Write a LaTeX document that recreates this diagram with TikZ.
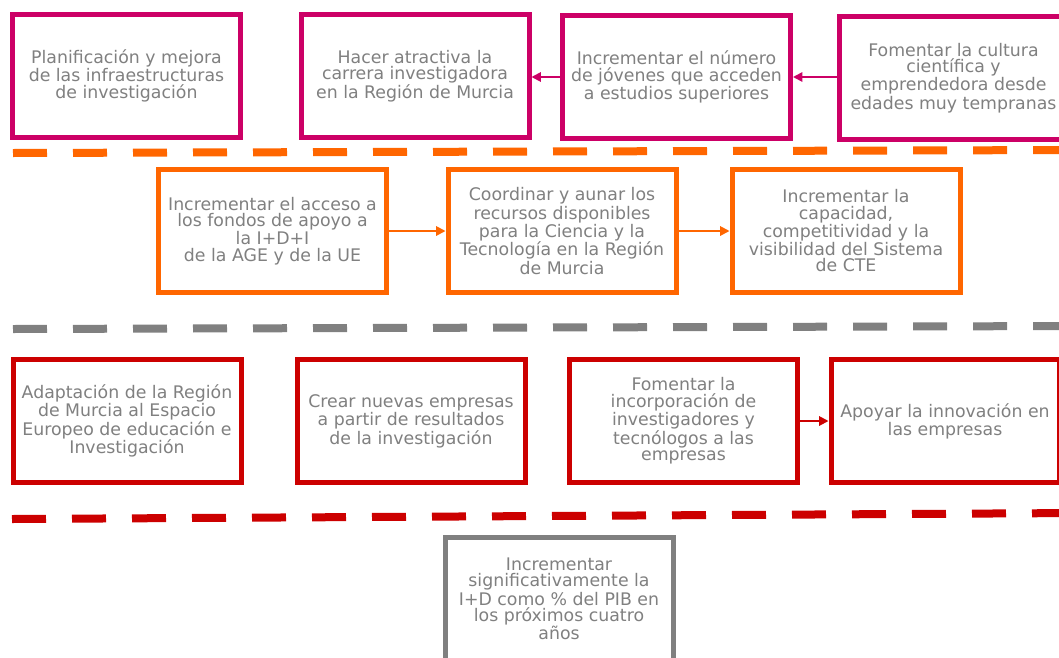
\documentclass[tikz,border=0pt]{standalone}
\usepackage{fontspec}
\setmainfont{DejaVu Sans}
\usetikzlibrary{arrows.meta}
\definecolor{rosa}{HTML}{CC0066}
\definecolor{naranja}{HTML}{FF6600}
\definecolor{gris}{HTML}{808080}
\definecolor{rojo}{HTML}{CC0000}
\definecolor{textogris}{HTML}{808080}
\tikzstyle{caja}=[rectangle, minimum width=171pt, minimum height=92pt, inner sep=0, line width=3.75pt, fill=white, align=center, text=textogris, font=\fontsize{13}{12.3}\selectfont]
\tikzstyle{flecha}=[line width=1.4pt, -{Triangle[length=7pt,width=7pt]}]
\tikzstyle{raya}=[line width=6pt, dash pattern=on 25.5pt off 19.5pt]

\begin{document}
\begin{tikzpicture}[x=0.75pt,y=-0.75pt]
\clip (0,0) rectangle (1059,657);

% lineas discontinuas entre filas
\draw[raya,naranja] (13,153)--(1080,150);
\draw[raya,gris] (13,329)--(1080,326);
\draw[raya,rojo] (12,519)--(1080,513);

% fila 1
\node[caja,draw=rosa] (planif) at (126.5,76) {Planificación y mejora\\de las infraestructuras\\de investigación};
\node[caja,draw=rosa] (carrera) at (415,76) {Hacer atractiva la\\carrera investigadora\\en la Región de Murcia};
\node[caja,draw=rosa] (jovenes) at (676.5,77) {Incrementar el número\\de jóvenes que acceden\\a estudios superiores};
\node[caja,draw=rosa] (cultura) at (953.5,78) {Fomentar la cultura\\científica y\\emprendedora desde\\edades muy tempranas};
\draw[flecha,rosa] (cultura.west|-jovenes) -- (jovenes.east);
\draw[flecha,rosa] (jovenes.west) -- (carrera.east|-jovenes);

% fila 2
\node[caja,draw=naranja] (fondos) at (272.5,231) {Incrementar el acceso a\\los fondos de apoyo a\\la I+D+I\\de la AGE y de la UE};
\node[caja,draw=naranja] (recursos) at (562,231) {Coordinar y aunar los\\recursos disponibles\\para la Ciencia y la\\Tecnología en la Región\\de Murcia};
\node[caja,draw=naranja] (sistema) at (846,231) {Incrementar la\\capacidad,\\competitividad y la\\visibilidad del Sistema\\de CTE};
\draw[flecha,naranja] (fondos.east) -- (recursos.west);
\draw[flecha,naranja] (recursos.east) -- (sistema.west);

% fila 3
\node[caja,draw=rojo] (espacio) at (127,421) {Adaptación de la Región\\de Murcia al Espacio\\Europeo de educación e\\Investigación};
\node[caja,draw=rojo] (empresas) at (411,421) {Crear nuevas empresas\\a partir de resultados\\de la investigación};
\node[caja,draw=rojo] (tecnologos) at (683.5,421) {Fomentar la\\incorporación de\\investigadores y\\tecnólogos a las\\empresas};
\node[caja,draw=rojo] (innovacion) at (945,421) {Apoyar la innovación en\\las empresas};
\draw[flecha,rojo] (tecnologos.east) -- (innovacion.west);

% fila 4
\node[caja,draw=gris] (pib) at (559,599) {Incrementar\\significativamente la\\I+D como \% del PIB en\\los próximos cuatro\\años};
\end{tikzpicture}
\end{document}
